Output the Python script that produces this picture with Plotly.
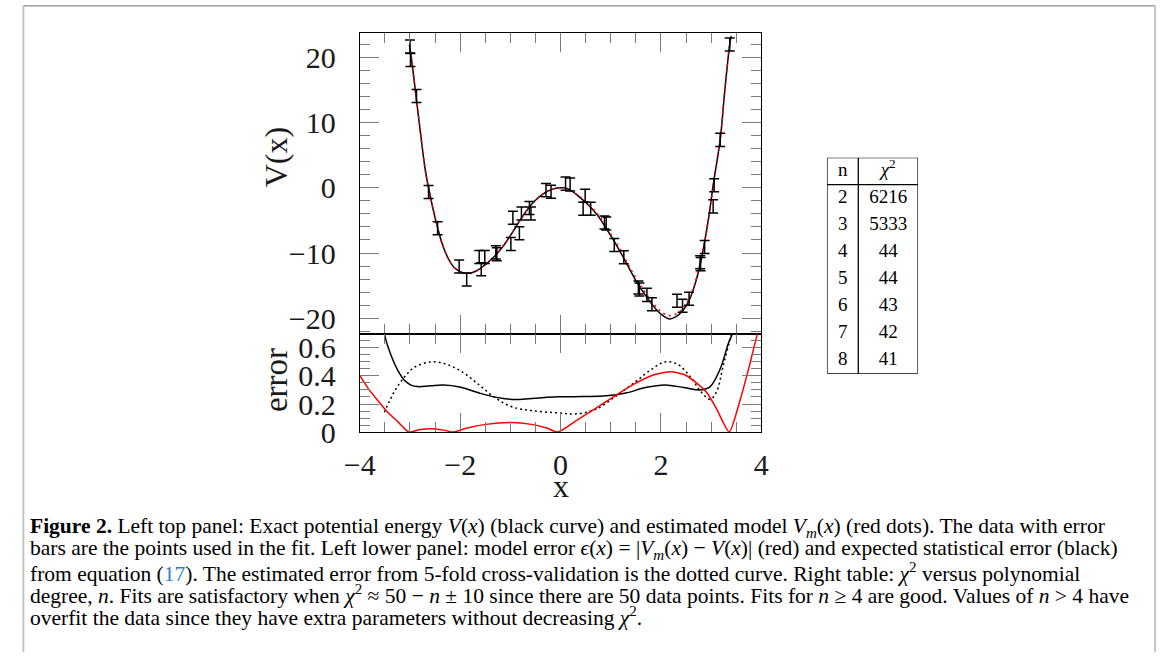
import plotly.graph_objects as go

W, H = 1167, 668

# ---------------- data ----------------
# fit data with error bars (top panel)
data_x = [-3.00, -2.99, -2.87, -2.63, -2.45, -2.02, -1.87, -1.62, -1.51, -1.58,
          -1.29, -1.27, -0.99, -0.95, -0.82, -0.78, -0.62, -0.59, -0.29, -0.19,
          0.10, 0.19, 0.49, 0.45, 0.60, 0.875, 0.91, 1.07, 1.26, 1.55,
          1.57, 1.72, 1.82, 2.32, 2.43, 2.56, 2.78, 2.79, 2.87, 3.04,
          3.06, 3.18, 3.37]
data_v = [21.67, 19.6, 14.08, -0.65, -6.2, -12.06, -14.05, -10.6, -10.6, -12.5,
          -9.9, -10.2, -8.6, -4.58, -6.96, -3.93, -3.08, -3.93, -0.35, -0.6,
          0.65, 0.5, -1.2, -3.2, -3.2, -5.32, -5.47, -8.76, -10.65, -15.3,
          -15.6, -16.42, -17.86, -17.31, -18.1, -17.0, -11.4, -11.7, -9.06, -2.84,
          0.4, 7.36, 22.0]
data_err = [1.0, 1.0, 1.0, 1.0, 1.0, 1.0, 1.0, 1.0, 1.0, 1.0,
            1.0, 1.0, 1.0, 1.0, 1.0, 1.0, 1.0, 1.0, 1.0, 1.0,
            1.0, 1.0, 1.0, 1.0, 1.0, 1.0, 1.0, 1.0, 1.0, 1.0,
            1.0, 1.0, 1.0, 1.0, 1.0, 1.0, 1.0, 1.0, 1.0, 1.0,
            1.0, 1.0, 1.0]

# exact potential V(x) and model Vm(x)
curve_x = [-3.01, -2.96, -2.88, -2.79, -2.70, -2.64, -2.53, -2.45, -2.37, -2.24,
           -2.11, -1.95, -1.82, -1.69, -1.52, -1.33, -1.13, -0.94, -0.75, -0.55,
           -0.36, -0.16, 0.03, 0.16, 0.36, 0.55, 0.745, 0.94, 1.13, 1.33,
           1.52, 1.72, 1.91, 2.04, 2.17, 2.30, 2.43, 2.56, 2.69, 2.82,
           2.95, 3.05, 3.18, 3.27, 3.37, 3.40]
v_exact = [21.9, 19.2, 14.1, 8.4, 3.0, 0.4, -3.6, -6.1, -8.3, -10.8,
           -12.3, -13.0, -13.1, -12.8, -11.9, -10.6, -8.8, -6.6, -4.3, -2.3,
           -1.0, -0.2, 0.0, -0.2, -1.3, -2.6, -4.3, -6.6, -9.0, -11.8,
           -14.5, -16.8, -18.7, -19.6, -20.1, -19.75, -18.9, -17.3, -14.5, -10.3,
           -4.6, 0.9, 7.4, 14.8, 22.0, 23.3]
v_model = [21.9, 19.2, 14.1, 8.4, 3.0, 0.4, -3.6, -6.1, -8.3, -10.8,
           -12.3, -13.0, -13.1, -12.8, -11.9, -10.6, -8.8, -6.6, -4.3, -2.3,
           -1.0, -0.2, 0.0, -0.25, -1.2, -2.45, -4.1, -6.35, -8.7, -11.5,
           -14.1, -16.4, -18.3, -19.2, -19.6, -19.35, -18.5, -17.0, -14.3, -10.2,
           -4.6, 0.9, 7.4, 14.8, 22.0, 23.3]

# lower panel: model error (red)
err_model_x = [-4.0, -3.83, -3.63, -3.44, -3.24, -3.02, -2.82, -2.59, -2.33, -2.13,
               -1.88, -1.49, -0.97, -0.58, -0.26, -0.06, 0.32, 0.71, 1.10, 1.49,
               1.88, 2.20, 2.46, 2.72, 2.92, 3.11, 3.36, 3.57, 3.76, 3.92, 4.0]
err_model = [0.404, 0.31, 0.22, 0.14, 0.073, 0.0, 0.016, 0.023, 0.014, 0.0,
             0.027, 0.055, 0.068, 0.055, 0.027, 0.0, 0.084, 0.171, 0.262, 0.347,
             0.41, 0.43, 0.41, 0.347, 0.278, 0.164, 0.0, 0.22, 0.47, 0.70, 0.80]

# expected statistical error (black solid)
err_stat_x = [-3.60, -3.51, -3.37, -3.24, -3.11, -2.98, -2.85, -2.59, -2.33, -2.01,
              -1.62, -1.30, -0.97, -0.58, -0.06, 0.45, 0.91, 1.30, 1.69, 2.08,
              2.46, 2.79, 2.98, 3.18, 3.34, 3.42, 3.50]
err_stat = [0.95, 0.70, 0.54, 0.438, 0.369, 0.335, 0.324, 0.33, 0.335, 0.321,
            0.278, 0.249, 0.233, 0.239, 0.251, 0.253, 0.258, 0.278, 0.317, 0.335,
            0.317, 0.30, 0.324, 0.45, 0.63, 0.70, 0.90]

# 5-fold cross-validation error (dotted)
err_cv_x = [-3.51, -3.31, -3.11, -2.92, -2.59, -2.27, -1.95, -1.62, -1.30, -0.97,
            -0.58, -0.06, 0.32, 0.71, 1.10, 1.49, 1.82, 2.08, 2.33, 2.59,
            2.79, 2.98, 3.11, 3.24, 3.40, 3.45]
err_cv = [0.141, 0.29, 0.392, 0.46, 0.50, 0.483, 0.426, 0.335, 0.244, 0.18,
          0.153, 0.137, 0.13, 0.164, 0.255, 0.358, 0.449, 0.50, 0.483, 0.392,
          0.29, 0.233, 0.29, 0.472, 0.70, 0.80]

# table
table_header = ["n", "<i>χ</i><sup>2</sup>"]
table_n = [2, 3, 4, 5, 6, 7, 8]
table_chi2 = [6216, 5333, 44, 44, 43, 42, 41]

caption_lines = [
    "<b>Figure 2.</b> Left top panel: Exact potential energy <i>V</i>(<i>x</i>) (black curve) and estimated model <i>V<sub>m</sub></i>(<i>x</i>) (red dots). The data with error",
    "bars are the points used in the fit. Left lower panel: model error <i>ϵ</i>(<i>x</i>) = |<i>V<sub>m</sub></i>(<i>x</i>) − <i>V</i>(<i>x</i>)| (red) and expected statistical error (black)",
    "from equation (<span style='color:#2f7fc1'>17</span>). The estimated error from 5-fold cross-validation is the dotted curve. Right table: <i>χ</i><sup>2</sup> versus polynomial",
    "degree, <i>n</i>. Fits are satisfactory when <i>χ</i><sup>2</sup> ≈ 50 − <i>n</i> ± 10 since there are 50 data points. Fits for <i>n</i> ≥ 4 are good. Values of <i>n</i> > 4 have",
    "overfit the data since they have extra parameters without decreasing <i>χ</i><sup>2</sup>.",
]

# ---------------- figure ----------------
def px_x(p):
    return p / W


def px_y(p):
    return 1 - p / H


FONT = "Liberation Serif"
TICKC = "#7a7a7a"
LW = 1.2

fig = go.Figure()

# top panel
fig.add_trace(go.Scatter(x=curve_x, y=v_exact, mode="lines", line=dict(color="black", width=1.5, shape="spline"),
                         xaxis="x", yaxis="y", showlegend=False))
fig.add_trace(go.Scatter(x=curve_x, y=v_model, mode="lines",
                         line=dict(color="red", width=1.6, dash="2px,4px", shape="spline"),
                         xaxis="x", yaxis="y", showlegend=False))
fig.add_trace(go.Scatter(x=data_x, y=data_v, mode="markers", marker=dict(size=1, color="rgba(0,0,0,0)"),
                         error_y=dict(type="data", array=data_err, visible=True, color="black", thickness=1.5, width=5),
                         xaxis="x", yaxis="y", showlegend=False))

# lower panel
fig.add_trace(go.Scatter(x=err_stat_x, y=err_stat, mode="lines", line=dict(color="black", width=1.5, shape="spline"),
                         xaxis="x2", yaxis="y2", showlegend=False))
fig.add_trace(go.Scatter(x=err_cv_x, y=err_cv, mode="lines",
                         line=dict(color="black", width=1.5, dash="2px,3px", shape="spline"),
                         xaxis="x2", yaxis="y2", showlegend=False))
fig.add_trace(go.Scatter(x=err_model_x, y=err_model, mode="lines", line=dict(color="red", width=1.5, shape="spline", smoothing=0.6),
                         xaxis="x2", yaxis="y2", showlegend=False))

# table
fig.add_trace(go.Scatter(x=[0.172, 0.672], y=[0.5, 0.5], mode="text", text=table_header,
                         textfont=dict(family=FONT, size=19, color="black"), xaxis="x3", yaxis="y3",
                         showlegend=False, cliponaxis=False))
fig.add_trace(go.Scatter(x=[0.172] * len(table_n), y=[i + 1.5 for i in range(len(table_n))], mode="text",
                         text=[str(v) for v in table_n],
                         textfont=dict(family=FONT, size=19, color="black"), xaxis="x3", yaxis="y3",
                         showlegend=False, cliponaxis=False))
fig.add_trace(go.Scatter(x=[0.672] * len(table_chi2), y=[i + 1.5 for i in range(len(table_chi2))], mode="text",
                         text=[str(v) for v in table_chi2],
                         textfont=dict(family=FONT, size=19, color="black"), xaxis="x3", yaxis="y3",
                         showlegend=False, cliponaxis=False))

xdom = [px_x(351), px_x(761)]
common_x = dict(range=[-4, 4], showline=True, linecolor="black", linewidth=LW, mirror="allticks",
                ticks="inside", ticklen=19, tickwidth=1, tickcolor=TICKC, dtick=2, tick0=0,
                minor=dict(dtick=0.5, tick0=0, ticklen=10, tickcolor=TICKC, tickwidth=1, ticks="inside"),
                showgrid=False, zeroline=False, domain=xdom, fixedrange=True)
tickfont = dict(family=FONT, size=30, color="#1a1a1a")

fig.update_layout(
    width=W, height=H, margin=dict(l=0, r=0, t=0, b=0),
    paper_bgcolor="white", plot_bgcolor="white",
    xaxis=dict(common_x, anchor="y", showticklabels=False),
    yaxis=dict(range=[-22.39, 23.73], domain=[px_y(341), px_y(32)], anchor="x",
               showline=True, linecolor="black", linewidth=LW, mirror="allticks",
               ticks="inside", ticklen=19, tickwidth=1, tickcolor=TICKC, dtick=10, tick0=0,
               minor=dict(dtick=2, tick0=0, ticklen=10, tickcolor=TICKC, tickwidth=1, ticks="inside"),
               showgrid=False, zeroline=False, tickfont=tickfont, ticklabelstandoff=17, fixedrange=True),
    xaxis2=dict(common_x, anchor="y2", showticklabels=True, tickfont=tickfont, ticklabelstandoff=6),
    yaxis2=dict(range=[0, 0.7], domain=[px_y(442), px_y(341)], anchor="x2",
                showline=True, linecolor="black", linewidth=LW, mirror="allticks",
                ticks="inside", ticklen=19, tickwidth=1, tickcolor=TICKC, dtick=0.2, tick0=0,
                minor=dict(dtick=0.05, tick0=0, ticklen=10, tickcolor=TICKC, tickwidth=1, ticks="inside"),
                showgrid=False, zeroline=False, tickfont=tickfont, ticklabelstandoff=17, fixedrange=True),
    xaxis3=dict(range=[0, 1], domain=[px_x(828), px_x(921)], anchor="y3", visible=False, fixedrange=True),
    yaxis3=dict(range=[8, 0], domain=[px_y(382), px_y(160)], anchor="x3", visible=False, fixedrange=True),
)

shapes = [
    dict(type="rect", xref="x3", yref="y3", x0=0, x1=1, y0=0, y1=8, line=dict(color="black", width=1.3)),
    dict(type="line", xref="x3", yref="y3", x0=0.344, x1=0.344, y0=0, y1=8, line=dict(color="black", width=1.3)),
    dict(type="line", xref="x3", yref="y3", x0=0, x1=1, y0=1, y1=1, line=dict(color="black", width=1.3)),
    # outer frame
    dict(type="line", xref="paper", yref="paper", x0=px_x(7.5), x1=px_x(7.5), y0=0, y1=px_y(4),
         line=dict(color="#c4c4c4", width=2)),
    dict(type="line", xref="paper", yref="paper", x0=px_x(7.5), x1=px_x(1163), y0=px_y(4), y1=px_y(4),
         line=dict(color="#8a8a8a", width=1.2)),
    dict(type="line", xref="paper", yref="paper", x0=px_x(1163), x1=px_x(1163), y0=0, y1=px_y(4),
         line=dict(color="#c4c4c4", width=2)),
]
fig.update_layout(shapes=shapes)

annotations = [
    dict(text="V(x)", x=px_x(265), y=px_y(160), xref="paper", yref="paper", showarrow=False, textangle=-90,
         font=dict(family=FONT, size=32, color="#1a1a1a"), xanchor="center", yanchor="middle"),
    dict(text="error", x=px_x(265), y=px_y(389), xref="paper", yref="paper", showarrow=False, textangle=-90,
         font=dict(family=FONT, size=33, color="#1a1a1a"), xanchor="center", yanchor="middle"),
    dict(text="x", x=px_x(556), y=px_y(497), xref="paper", yref="paper", showarrow=False,
         font=dict(family=FONT, size=32, color="#1a1a1a"), xanchor="center", yanchor="middle"),
]
cap_y = [540, 563, 586, 609, 632]
for line, yy in zip(caption_lines, cap_y):
    annotations.append(dict(text=line, x=px_x(12), y=px_y(yy), xref="paper", yref="paper", showarrow=False,
                            xanchor="left", yanchor="middle", align="left",
                            font=dict(family=FONT, size=21.5, color="black")))
fig.update_layout(annotations=annotations)

post = (
    "document.documentElement.style.margin='0';document.documentElement.style.padding='0';"
    "document.documentElement.style.overflow='hidden';"
    "document.body.style.margin='0';document.body.style.padding='0';document.body.style.overflow='hidden';"
    "document.body.style.width='1167px';document.body.style.height='668px';"
    "var gd=document.getElementById('{plot_id}');"
    "gd.style.position='absolute';gd.style.left='0px';gd.style.top='0px';"
)
fig.write_html("out.html", config={"displayModeBar": False}, post_script=post)
